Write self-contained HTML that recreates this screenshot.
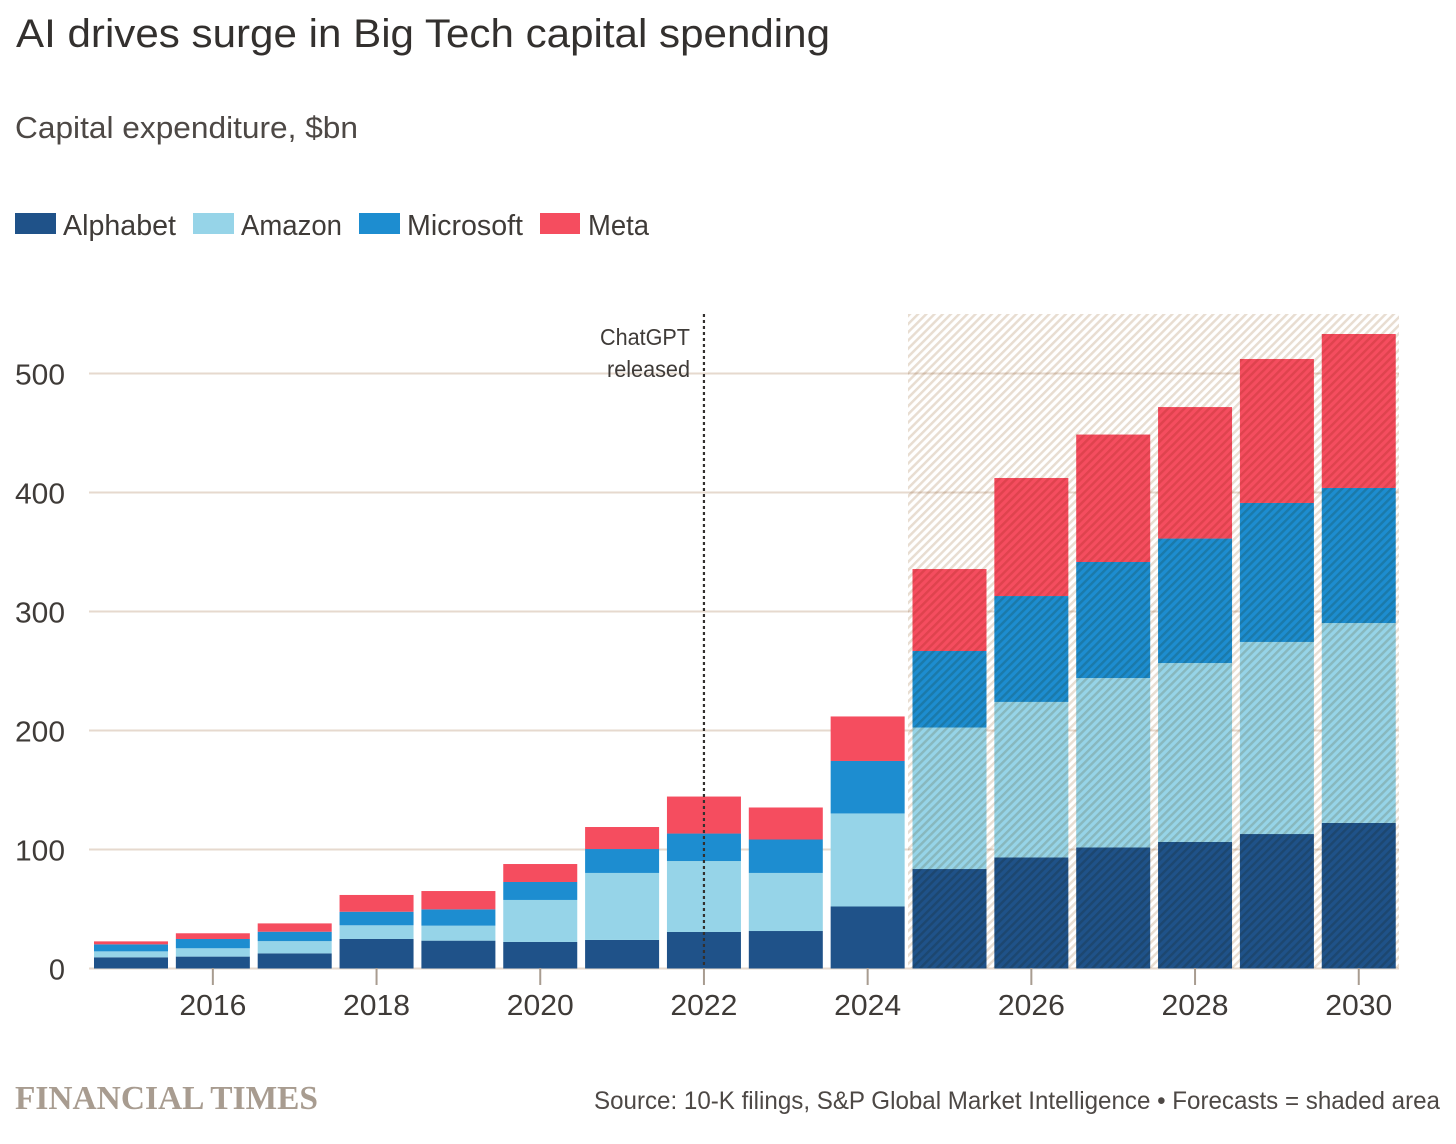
<!DOCTYPE html>
<html lang="en">
<head>
<meta charset="utf-8">
<title>AI drives surge in Big Tech capital spending</title>
<style>
html,body{margin:0;padding:0;background:#fff;}
body{width:1456px;height:1144px;overflow:hidden;}
svg{display:block;}
text{font-family:"Liberation Sans",sans-serif;fill:#3f3b38;}
</style>
</head>
<body>
<svg id="chart" width="1456" height="1144" viewBox="0 0 1456 1144" xmlns="http://www.w3.org/2000/svg">
  <defs>
    <pattern id="hatch" width="5.8" height="5.8" patternUnits="userSpaceOnUse" patternTransform="rotate(45)">
      <rect x="0" y="0" width="2.5" height="5.8" fill="#e8ddd1"></rect>
    </pattern>
  </defs>
  <text x="16" y="47" font-size="40" textLength="814" lengthAdjust="spacingAndGlyphs" style="fill:#33302e">AI drives surge in Big Tech capital spending</text>
  <text x="15" y="138" font-size="31" textLength="343" lengthAdjust="spacingAndGlyphs" style="fill:#4d4845">Capital expenditure, $bn</text>

  <g>
    <rect x="15" y="213" width="41" height="21" fill="#1f5289"></rect>
    <text x="63" y="235" font-size="29" textLength="113" lengthAdjust="spacingAndGlyphs">Alphabet</text>
    <rect x="193" y="213" width="41" height="21" fill="#96d4e8"></rect>
    <text x="241" y="235" font-size="29" textLength="101" lengthAdjust="spacingAndGlyphs">Amazon</text>
    <rect x="359" y="213" width="41" height="21" fill="#1d8dd0"></rect>
    <text x="407" y="235" font-size="29" textLength="116" lengthAdjust="spacingAndGlyphs">Microsoft</text>
    <rect x="540" y="213" width="40" height="21" fill="#f54d5f"></rect>
    <text x="588" y="235" font-size="29" textLength="61" lengthAdjust="spacingAndGlyphs">Meta</text>
  </g>

  <g id="grid"></g>
  <g id="ylabels"></g>
  <g id="bars"></g>
  <rect id="forecast" x="908" y="314" width="491" height="654" fill="url(#hatch)" style="mix-blend-mode:multiply"></rect>
  <g id="xaxis"></g>

  <line id="chatgpt-line" y1="314" y2="968" stroke="#33302e" stroke-width="2.2" stroke-dasharray="3 3"></line>
  <text x="690" y="345" font-size="23" text-anchor="end" textLength="90" lengthAdjust="spacingAndGlyphs">ChatGPT</text>
  <text x="690" y="377" font-size="23" text-anchor="end" textLength="83" lengthAdjust="spacingAndGlyphs">released</text>

  <text x="15" y="1109" font-size="33.5" font-weight="bold" textLength="303" lengthAdjust="spacingAndGlyphs" style="font-family:'Liberation Serif',serif;fill:#a89c90">FINANCIAL TIMES</text>
  <text x="594" y="1109" font-size="25" textLength="846" lengthAdjust="spacingAndGlyphs" style="fill:#4d4845">Source: 10-K filings, S&amp;P Global Market Intelligence • Forecasts = shaded area</text>
</svg>
<script>
const years = [2015,2016,2017,2018,2019,2020,2021,2022,2023,2024,2025,2026,2027,2028,2029,2030];
const alphabet = [9.4,10,12.7,24.8,23.4,22.3,24,30.7,31.5,52.1,83.6,93.3,101.7,106.3,113,122.3];
const amazon = [5,7,10.3,11.5,12.6,35.3,56.3,59.6,48.8,78.2,118.9,130.7,142.4,150.4,161.4,168];
const microsoft = [5.9,7.8,7.9,11.4,13.7,15.1,20.1,23.1,28.1,44.1,64.3,89,97.5,104.6,116.8,113.5];
const meta = [2.5,4.8,7,14.1,15.4,15.1,18.5,31.1,26.9,37.4,68.9,99.2,107.1,110.5,121,129.4];
const yTicks = [0,100,200,300,400,500];
const xTicks = [2016,2018,2020,2022,2024,2026,2028,2030];
const chatgptYear = 2022;

const NS = 'http://www.w3.org/2000/svg';
const yScale = function (v) { return 968.5 - v * 1.19; };
const xScale = function (yr) { return 131 + (yr - 2015) * 81.85; };
const BAR_W = 74;
const stacks = [
  { key: 'alphabet', values: alphabet, color: '#1f5289' },
  { key: 'amazon', values: amazon, color: '#96d4e8' },
  { key: 'microsoft', values: microsoft, color: '#1d8dd0' },
  { key: 'meta', values: meta, color: '#f54d5f' }
];

const grid = document.getElementById('grid');
const ylabels = document.getElementById('ylabels');
yTicks.forEach(function (t) {
  const line = document.createElementNS(NS, 'line');
  
  
  line.setAttribute('x1', 89);
  line.setAttribute('x2', 1399);
  line.setAttribute('y1', yScale(t));
  line.setAttribute('y2', yScale(t));
  line.setAttribute('stroke', '#e6d9ce');
  line.setAttribute('stroke-width', 2);
  grid.appendChild(line);
  const label = document.createElementNS(NS, 'text');
  
  
  label.setAttribute('x', 65);
  label.setAttribute('y', yScale(t) + 11);
  label.setAttribute('font-size', 29);
  label.setAttribute('text-anchor', 'end');
  if (t >= 100) {
    label.setAttribute('textLength', 50);
    label.setAttribute('lengthAdjust', 'spacingAndGlyphs');
  }
  label.textContent = String(t);
  ylabels.appendChild(label);
});

const bars = document.getElementById('bars');
years.forEach(function (yr, i) {
  let cum = 0;
  stacks.forEach(function (s) {
    const v = s.values[i];
    const r = document.createElementNS(NS, 'rect');
    
    
    r.setAttribute('x', xScale(yr) - BAR_W / 2);
    r.setAttribute('y', yScale(cum + v));
    r.setAttribute('width', BAR_W);
    r.setAttribute('height', yScale(cum) - yScale(cum + v));
    r.setAttribute('fill', s.color);
    bars.appendChild(r);
    cum += v;
  });
});

const xaxis = document.getElementById('xaxis');
xTicks.forEach(function (t) {
  const tick = document.createElementNS(NS, 'line');
  
  
  tick.setAttribute('x1', xScale(t));
  tick.setAttribute('x2', xScale(t));
  tick.setAttribute('y1', 968);
  tick.setAttribute('y2', 985);
  tick.setAttribute('stroke', '#a89c90');
  tick.setAttribute('stroke-width', 2);
  xaxis.appendChild(tick);
  const label = document.createElementNS(NS, 'text');
  
  
  label.setAttribute('x', xScale(t));
  label.setAttribute('y', 1015);
  label.setAttribute('font-size', 29);
  label.setAttribute('text-anchor', 'middle');
  label.setAttribute('textLength', 67);
  label.setAttribute('lengthAdjust', 'spacingAndGlyphs');
  label.textContent = String(t);
  xaxis.appendChild(label);
});

const cg = document.getElementById('chatgpt-line');
cg.setAttribute('x1', xScale(chatgptYear));
cg.setAttribute('x2', xScale(chatgptYear));
</script>
</body>
</html>
